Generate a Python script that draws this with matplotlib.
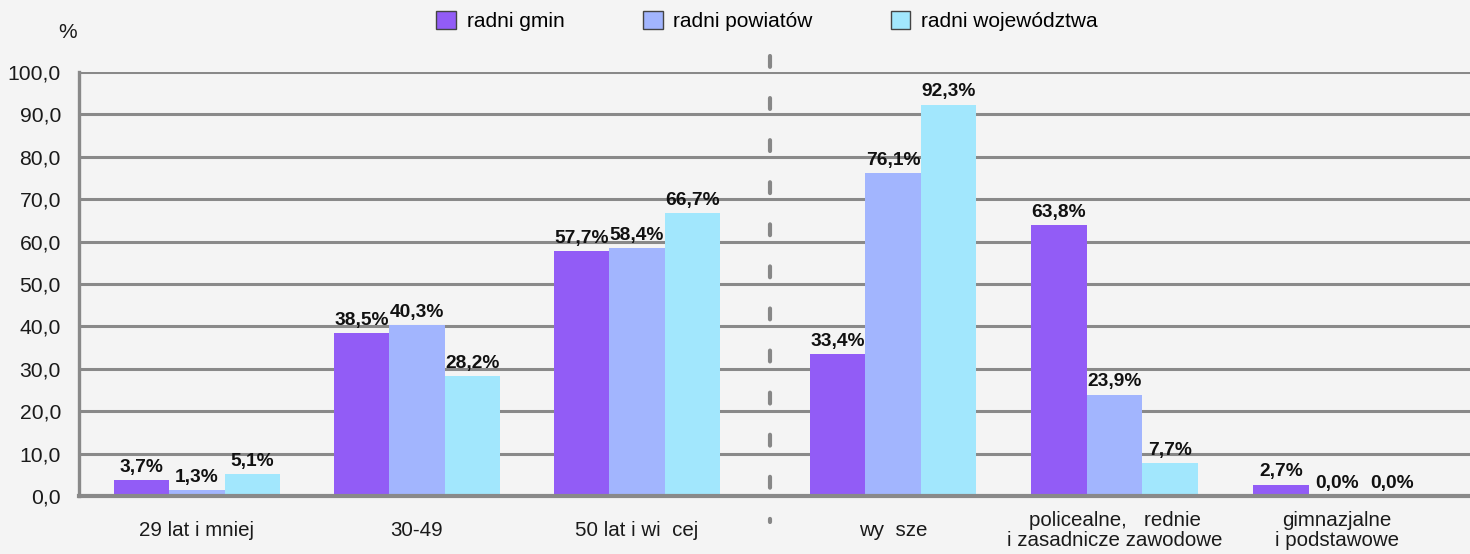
import numpy as np
import matplotlib
matplotlib.use('Agg')
import matplotlib.pyplot as plt
import matplotlib.transforms as mtransforms

# dane
kategorie = ['29 lat i mniej', '30-49', '50 lat i wi  cej',
             'wy  sze', 'policealne,   rednie\ni zasadnicze zawodowe',
             'gimnazjalne\ni podstawowe']
serie = ['radni gmin', 'radni powiatów', 'radni województwa']
radni_gmin = [3.7, 38.5, 57.7, 33.4, 63.8, 2.7]
radni_powiatow = [1.3, 40.3, 58.4, 76.1, 23.9, 0.0]
radni_wojewodztwa = [5.1, 28.2, 66.7, 92.3, 7.7, 0.0]
kolory = ['#925CF6', '#A2B5FE', '#A2E7FD']

plt.rcParams['font.family'] = ['Liberation Sans', 'DejaVu Sans']

fig = plt.figure(figsize=(14.7, 5.54), dpi=100, facecolor='#F4F4F4')
ax = fig.add_axes([79 / 1470, 58 / 554, 1 - 79 / 1470, 424 / 554])
ax.set_facecolor('#F4F4F4')

# dodatkowa przerwa między grupą wieku a wykształcenia
x = np.array([0, 1, 2, 3.164, 4.17, 5.18])
w = 0.252
for i, (vals, kol, nazwa) in enumerate(zip([radni_gmin, radni_powiatow, radni_wojewodztwa], kolory, serie)):
    pos = x + (i - 1) * w
    ax.bar(pos, vals, width=w, color=kol, label=nazwa, zorder=3)
    for p, v in zip(pos, vals):
        ax.text(p, v + 1.0, f'{v:.1f}%'.replace('.', ','), ha='center', va='bottom',
                fontsize=13.8, fontweight='bold', color='#111111', zorder=4)

ax.set_ylim(0, 100)
ax.set_xlim(-0.536, 5.786)
ax.set_yticks(np.arange(0, 101, 10))
ax.set_yticklabels([f'{t:.1f}'.replace('.', ',') for t in np.arange(0, 101, 10)])
ax.set_xticks(x)
ax.set_xticklabels(kategorie, va='center', linespacing=1.1)
ax.tick_params(axis='x', length=0, pad=25, labelsize=14.8, colors='#1A1A1A')
ax.tick_params(axis='y', length=0, pad=13, labelsize=15.2, colors='#1A1A1A')

ax.grid(axis='y', color='#898989', linewidth=2.2, zorder=1)
for s in ['top', 'right']:
    ax.spines[s].set_visible(False)
ax.spines['left'].set_color('#898989')
ax.spines['left'].set_linewidth(2.4)
ax.spines['bottom'].set_color('#898989')
ax.spines['bottom'].set_linewidth(3.0)
ax.spines['bottom'].set_zorder(5)

# przerywana linia podziału
tr = mtransforms.blended_transform_factory(ax.transData, fig.transFigure)
ax.plot([2.605, 2.605], [1 - 56 / 554, 1 - 522 / 554], transform=tr, clip_on=False,
        color='#878787', linewidth=3.0, linestyle=(0, (2.6, 7.5)),
        solid_capstyle='round', dash_capstyle='round', zorder=2)

fig.text(68 / 1470, 1 - 32 / 554, '%', ha='center', va='center', fontsize=15, color='#1A1A1A')

fig.legend(loc='center', bbox_to_anchor=(767 / 1470, 1 - 21 / 554), ncol=3, frameon=False,
           fontsize=15, handlelength=0.95, handleheight=1.0, handletextpad=0.5,
           columnspacing=3.76, borderaxespad=0)
for h in fig.legends[0].legend_handles:
    h.set_edgecolor('#444444')
    h.set_linewidth(1.0)

fig.savefig('out.png', dpi=100, facecolor=fig.get_facecolor())
